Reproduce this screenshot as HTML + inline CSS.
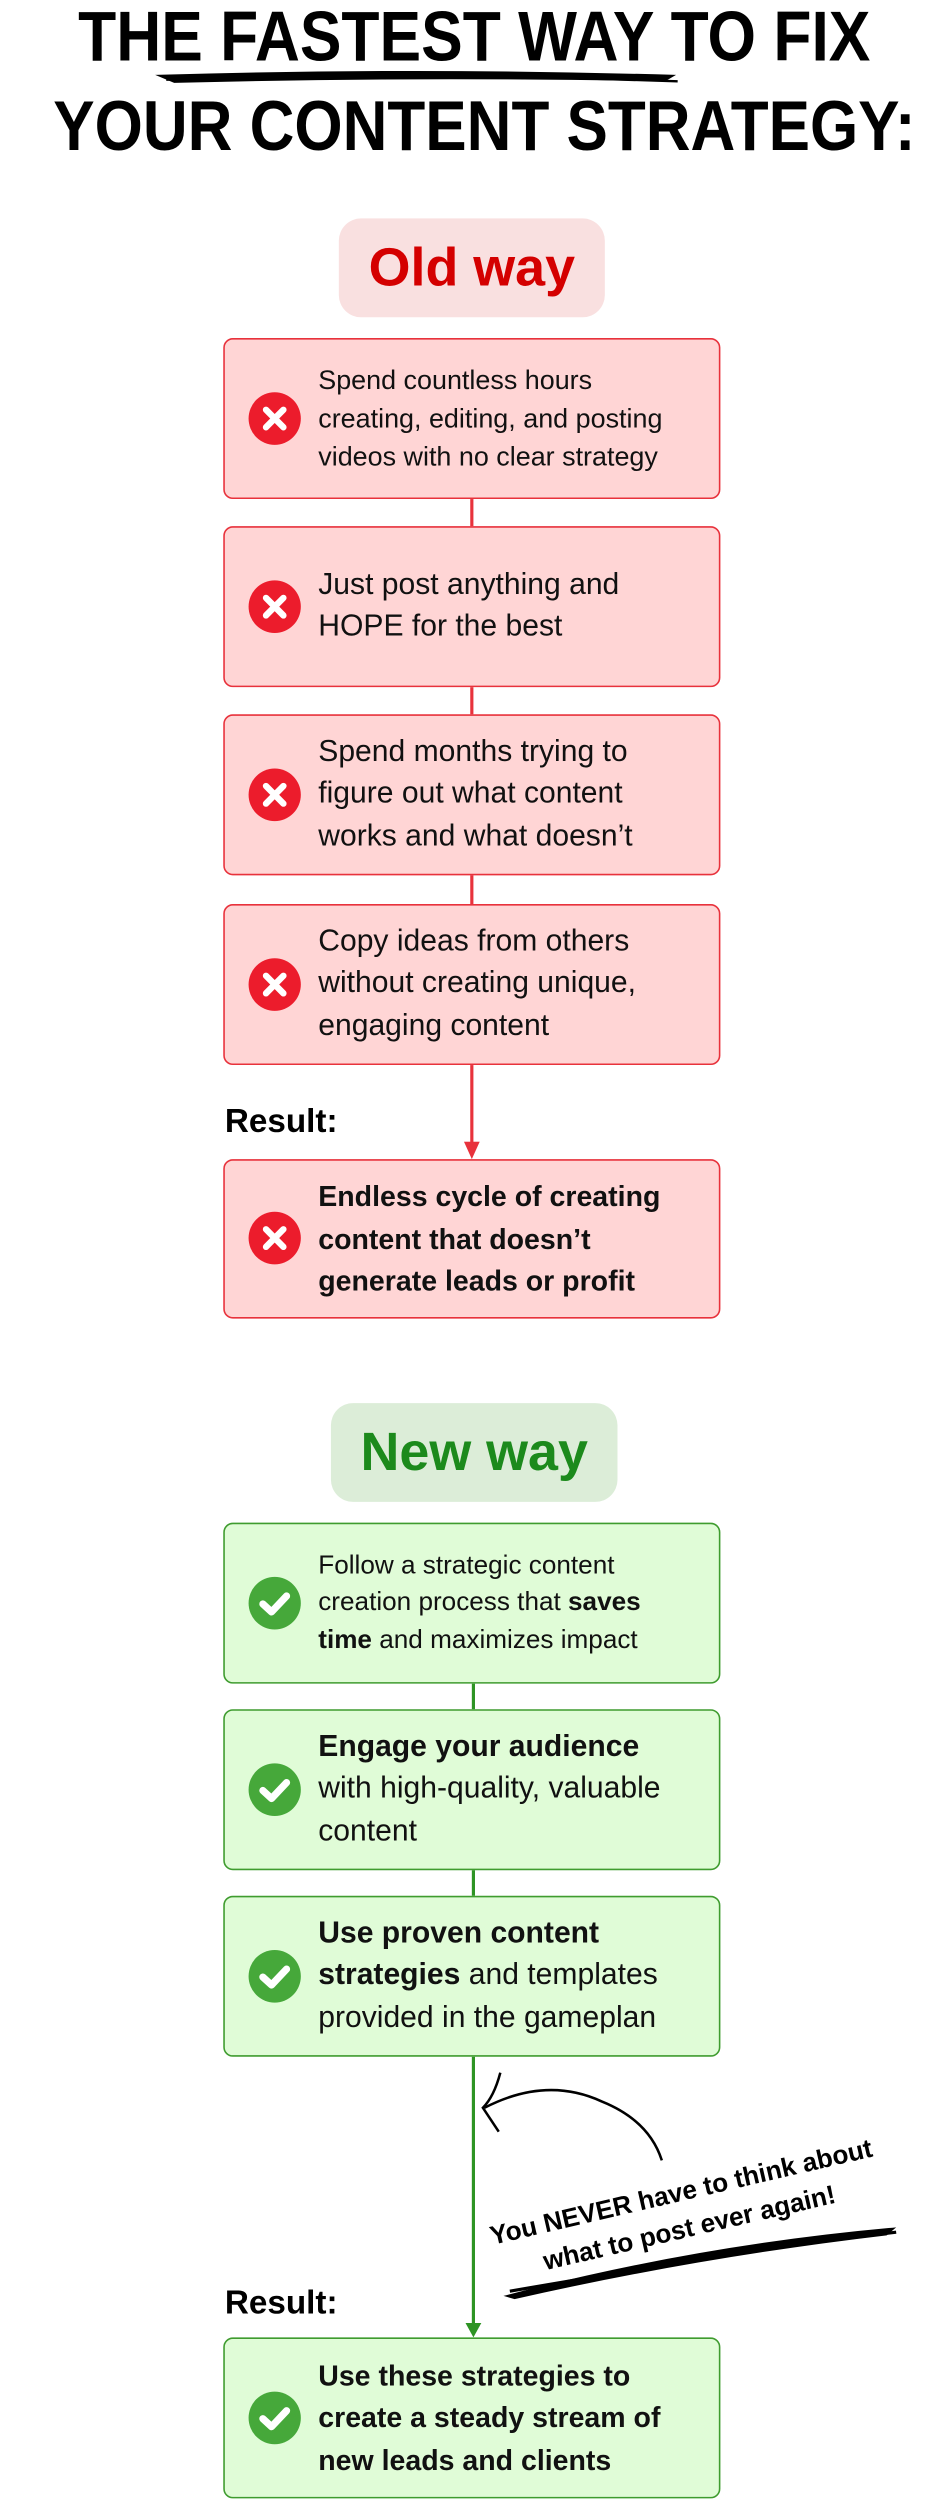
<!DOCTYPE html>
<html><head><meta charset="utf-8"><style>
html,body{margin:0;padding:0;background:#fff;}
body{width:950px;height:2500px;overflow:hidden;position:relative;}
#w{position:absolute;left:0;top:0;width:600px;height:1568px;transform-origin:0 0;transform:scale(1.58333,1.5944);font-family:"Liberation Sans",sans-serif;}
.t{position:absolute;left:0;width:600px;text-align:center;font-weight:bold;font-size:44px;color:#000;white-space:nowrap;}
.t span{display:inline-block;transform-origin:50% 50%;}
.pill{position:absolute;border-radius:14px;text-align:center;font-weight:bold;font-size:34px;}
.box{position:absolute;left:141px;width:314px;border-radius:6px;box-sizing:border-box;}
.r{background:#ffd5d5;border:1px solid #e8323c;}
.g{background:#e0fcd7;border:1px solid #3f9c2f;}
.ic{position:absolute;left:15px;width:33px;height:33px;border-radius:50%;top:50%;margin-top:-17px;}
.r .ic{background:#ec1c2c;}
.g .ic{background:#46a83a;}
.tx{position:absolute;left:59px;right:4px;top:50%;transform:translateY(-50%);font-size:17.5px;line-height:26.5px;color:#111;white-space:nowrap;}
.vl{position:absolute;width:2px;}
.res{position:absolute;left:142px;font-weight:bold;font-size:21px;}
</style></head><body><div id="w">
<div class="t" style="top:-1px;"><span style="transform:scaleX(0.895)">THE FASTEST WAY TO FIX</span></div>
<div class="t" style="top:55px;"><span style="transform:scaleX(0.89)">YOUR CONTENT STRATEGY:</span></div>
<svg style="position:absolute;left:0;top:0" width="600" height="120">
<path d="M98 47 Q260 42 427 47 L420 51 Q260 48 110 52 Z" fill="#000"/>
<path d="M105 50 L300 47 L428 51" stroke="#000" stroke-width="1.5" fill="none"/>
</svg>

<div class="pill" style="left:214px;top:137px;width:168px;height:62px;line-height:62px;background:#f9e0e0;color:#d40000;">Old way</div>

<div class="vl" style="left:297px;top:313px;height:17px;background:#e8323c"></div>
<div class="vl" style="left:297px;top:431px;height:17px;background:#e8323c"></div>
<div class="vl" style="left:297px;top:549px;height:18px;background:#e8323c"></div>
<div class="vl" style="left:297px;top:668px;height:52px;background:#e8323c"></div>
<svg style="position:absolute;left:290px;top:716px" width="16" height="12"><path d="M3 0 L13 0 L8 11 Z" fill="#e8323c"/></svg>

<div class="box r" style="top:212px;height:101px"><div class="ic"><svg width="33" height="33"><path d="M11 11 L22 22 M22 11 L11 22" stroke="#fff" stroke-width="4" stroke-linecap="round"/></svg></div><div class="tx" style="font-size:17px;line-height:24px">Spend countless hours<br>creating, editing, and posting<br>videos with no clear strategy</div></div>
<div class="box r" style="top:330px;height:101px"><div class="ic"><svg width="33" height="33"><path d="M11 11 L22 22 M22 11 L11 22" stroke="#fff" stroke-width="4" stroke-linecap="round"/></svg></div><div class="tx" style="font-size:19px">Just post anything and<br>HOPE for the best</div></div>
<div class="box r" style="top:448px;height:101px"><div class="ic"><svg width="33" height="33"><path d="M11 11 L22 22 M22 11 L11 22" stroke="#fff" stroke-width="4" stroke-linecap="round"/></svg></div><div class="tx" style="font-size:19px">Spend months trying to<br>figure out what content<br>works and what doesn’t</div></div>
<div class="box r" style="top:567px;height:101px"><div class="ic"><svg width="33" height="33"><path d="M11 11 L22 22 M22 11 L11 22" stroke="#fff" stroke-width="4" stroke-linecap="round"/></svg></div><div class="tx" style="font-size:19px">Copy ideas from others<br>without creating unique,<br>engaging content</div></div>
<div class="res" style="top:692px">Result:</div>
<div class="box r" style="top:727px;height:100px"><div class="ic"><svg width="33" height="33"><path d="M11 11 L22 22 M22 11 L11 22" stroke="#fff" stroke-width="4" stroke-linecap="round"/></svg></div><div class="tx" style="font-weight:bold;font-size:18px">Endless cycle of creating<br>content that doesn’t<br>generate leads or profit</div></div>

<div class="pill" style="left:209px;top:880px;width:181px;height:62px;line-height:62px;background:#dcedd8;color:#1c8a1c;">New way</div>

<div class="vl" style="left:298px;top:1056px;height:16px;background:#2e9424"></div>
<div class="vl" style="left:298px;top:1173px;height:16px;background:#2e9424"></div>
<div class="vl" style="left:298px;top:1290px;height:170px;background:#2e9424"></div>
<svg style="position:absolute;left:291px;top:1457px" width="16" height="10"><path d="M3 0 L13 0 L8 9 Z" fill="#2e9424"/></svg>

<div class="box g" style="top:955px;height:101px"><div class="ic"><svg width="33" height="33"><path d="M9 17 L14.5 22 L24 12" stroke="#fff" stroke-width="4.5" fill="none" stroke-linecap="round" stroke-linejoin="round"/></svg></div><div class="tx" style="font-size:16.5px;line-height:23.5px">Follow a strategic content<br>creation process that <b>saves</b><br><b>time</b> and maximizes impact</div></div>
<div class="box g" style="top:1072px;height:101px"><div class="ic"><svg width="33" height="33"><path d="M9 17 L14.5 22 L24 12" stroke="#fff" stroke-width="4.5" fill="none" stroke-linecap="round" stroke-linejoin="round"/></svg></div><div class="tx" style="font-size:19px"><b>Engage your audience</b><br>with high-quality, valuable<br>content</div></div>
<div class="box g" style="top:1189px;height:101px"><div class="ic"><svg width="33" height="33"><path d="M9 17 L14.5 22 L24 12" stroke="#fff" stroke-width="4.5" fill="none" stroke-linecap="round" stroke-linejoin="round"/></svg></div><div class="tx" style="font-size:19px"><b>Use proven content</b><br><b>strategies</b> and templates<br>provided in the gameplan</div></div>
<div class="res" style="top:1433px">Result:</div>
<div class="box g" style="top:1466px;height:101px"><div class="ic"><svg width="33" height="33"><path d="M9 17 L14.5 22 L24 12" stroke="#fff" stroke-width="4.5" fill="none" stroke-linecap="round" stroke-linejoin="round"/></svg></div><div class="tx" style="font-weight:bold;font-size:18px">Use these strategies to<br>create a steady stream of<br>new leads and clients</div></div>

<svg style="position:absolute;left:0;top:1290px" width="600" height="170">
<path d="M418 65 Q410 40 380 28 Q345 12 306 32" stroke="#000" stroke-width="1.6" fill="none"/>
<path d="M316 10 Q312 25 305 32 L315 47" stroke="#000" stroke-width="1.6" fill="none"/>
<path d="M318 150 Q440 118 566 107 L560 112 Q440 126 325 152 Z" fill="#000"/>
<path d="M322 147 L470 122 L566 110" stroke="#000" stroke-width="2" fill="none"/>
</svg>
<div style="position:absolute;left:298px;top:1364px;width:270px;text-align:center;font-weight:bold;font-size:16.5px;line-height:23px;transform:rotate(-13deg);white-space:nowrap;">You NEVER have to think about<br>what to post ever again!</div>
</div></body></html>
